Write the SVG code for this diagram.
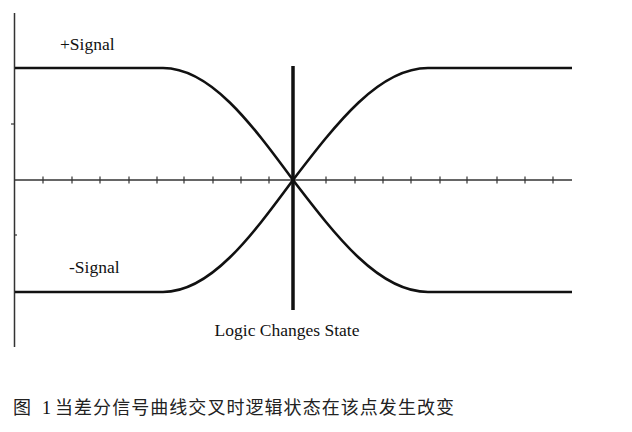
<svg xmlns="http://www.w3.org/2000/svg" width="632" height="432" viewBox="0 0 632 432">
<style>
.axis{stroke:#333;stroke-width:1.5;fill:none}
.tick{stroke:#333;stroke-width:1.2}
.sig{stroke:#111;stroke-width:2.6;fill:none;stroke-linejoin:round}
.lbl{font-family:"Liberation Serif","Times New Roman",serif;font-size:17.5px;fill:#111}
.cap{font-family:"Noto Sans CJK SC",sans-serif;font-size:18px;fill:#222}
</style>
<rect width="632" height="432" fill="#fff"/>
<g id="axes">
<line class="axis" x1="14.5" y1="13" x2="14.5" y2="347"/>
<line class="axis" x1="14" y1="180" x2="572" y2="180"/>
<line class="tick" x1="11" y1="124" x2="15" y2="124"/>
<line class="tick" x1="14" y1="235" x2="17" y2="235"/>
<g class="tick">
<line x1="43" y1="176.5" x2="43" y2="183.5"/>
<line x1="72" y1="176.5" x2="72" y2="183.5"/>
<line x1="100" y1="176.5" x2="100" y2="183.5"/>
<line x1="129" y1="176.5" x2="129" y2="183.5"/>
<line x1="157" y1="176.5" x2="157" y2="183.5"/>
<line x1="184" y1="176.5" x2="184" y2="183.5"/>
<line x1="213" y1="176.5" x2="213" y2="183.5"/>
<line x1="241" y1="176.5" x2="241" y2="183.5"/>
<line x1="269" y1="176.5" x2="269" y2="183.5"/>
<line x1="326" y1="176.5" x2="326" y2="183.5"/>
<line x1="355" y1="176.5" x2="355" y2="183.5"/>
<line x1="383" y1="176.5" x2="383" y2="183.5"/>
<line x1="411" y1="176.5" x2="411" y2="183.5"/>
<line x1="440" y1="176.5" x2="440" y2="183.5"/>
<line x1="467" y1="176.5" x2="467" y2="183.5"/>
<line x1="497" y1="176.5" x2="497" y2="183.5"/>
<line x1="525" y1="176.5" x2="525" y2="183.5"/>
<line x1="553" y1="176.5" x2="553" y2="183.5"/>
</g>
</g>
<g id="connectors">
<path id="plus-signal" class="sig" d="M15,68 H163 C210.1,68 250.6,122.6 293,180 C337,237.4 379,292 428,292 H572"/>
<path id="minus-signal" class="sig" d="M15,292 H163 C210.1,292 250.6,237.4 293,180 C337,122.6 379,68 428,68 H572"/>
<line id="logic-line" x1="293" y1="66" x2="293" y2="310" stroke="#111" stroke-width="3.5"/>
</g>
<g id="label-plus"><text class="lbl" x="60" y="50">+Signal</text></g>
<g id="label-minus"><text class="lbl" x="69" y="273">-Signal</text></g>
<g id="label-logic"><text class="lbl" x="287" y="336" text-anchor="middle">Logic Changes State</text></g>
<g id="caption">
<text class="cap" x="13" y="414">图</text>
<text class="lbl" x="42" y="414" style="font-size:18px">1</text>
<text class="cap" x="55" y="414" letter-spacing="1.05">当差分信号曲线交叉时逻辑状态在该点发生改变</text>
</g>
</svg>
